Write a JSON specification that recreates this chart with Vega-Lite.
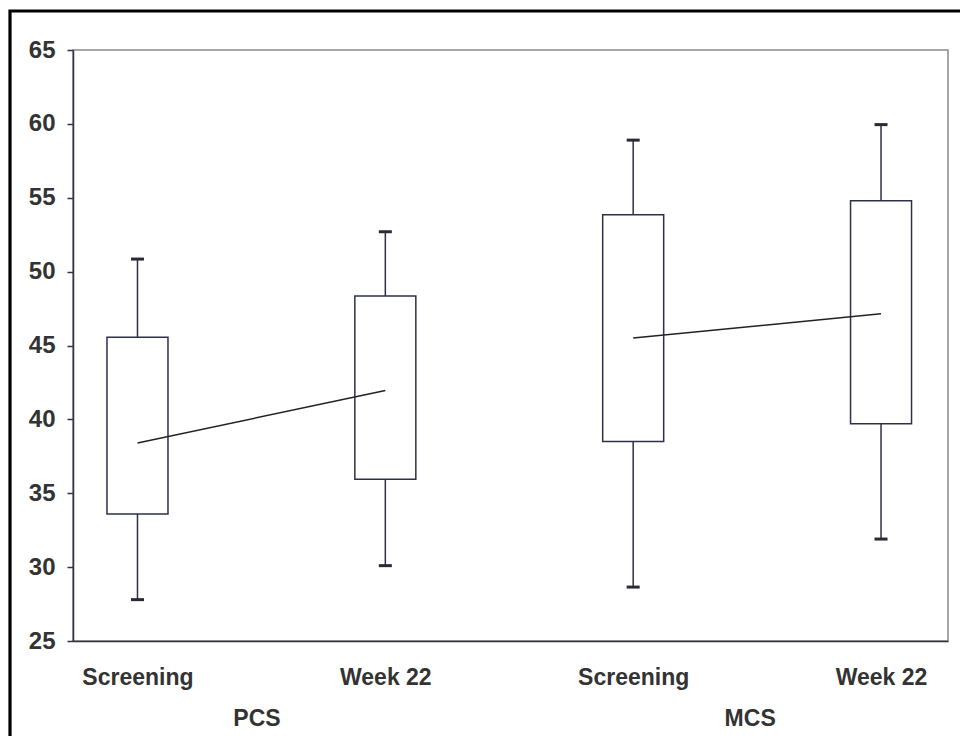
{
  "$schema": "https://vega.github.io/schema/vega-lite/v6.json",
  "autosize": {"type": "none"},
  "padding": {"left": 73, "top": 50, "right": 12, "bottom": 95},
  "width": 875,
  "height": 591,
  "background": "white",
  "config": {
    "view": {"stroke": "#8a8a8a", "strokeWidth": 1.5},
    "font": "Liberation Sans",
    "axis": {
      "labelFont": "Liberation Sans",
      "labelFontWeight": "bold",
      "labelFontSize": 22,
      "labelColor": "#333333",
      "domainColor": "#333340",
      "domainWidth": 1.5,
      "tickColor": "#333340",
      "tickWidth": 1.5,
      "grid": false,
      "title": null
    }
  },
  "data": {
    "values": [
      {"key": "PCS Screening", "group": "PCS", "pos": 1, "min": 27.8, "q1": 33.6, "mean": 38.4, "q3": 45.55, "max": 50.85},
      {"key": "PCS Week 22", "group": "PCS", "pos": 2, "min": 30.1, "q1": 35.95, "mean": 41.95, "q3": 48.35, "max": 52.7},
      {"key": "MCS Screening", "group": "MCS", "pos": 3, "min": 28.65, "q1": 38.5, "mean": 45.5, "q3": 53.85, "max": 58.9},
      {"key": "MCS Week 22", "group": "MCS", "pos": 4, "min": 31.9, "q1": 39.7, "mean": 47.15, "q3": 54.8, "max": 59.95}
    ]
  },
  "encoding": {
    "x": {
      "field": "pos",
      "type": "quantitative",
      "scale": {"domain": [0.76, 4.25], "nice": false, "zero": false},
      "axis": {
        "values": [1, 1.48, 2, 3, 3.47, 4],
        "labelExpr": "datum.value == 1 || datum.value == 3 ? 'Screening' : (datum.value == 2 || datum.value == 4 ? 'Week 22' : (datum.value < 2 ? ['', 'PCS'] : ['', 'MCS']))",
        "labelFontSize": 23,
        "ticks": false,
        "labelPadding": 25,
        "labelLineHeight": 41,
        "labelOverlap": false,
        "labelFlush": false,
        "labelBound": false
      }
    }
  },
  "layer": [
    {
      "data": {"values": [{"frame": "outer"}]},
      "mark": {"type": "rect", "fill": null, "stroke": "black", "strokeWidth": 3.2, "clip": false},
      "encoding": {
        "x": {"value": -63},
        "x2": {"value": 960},
        "y": {"value": -39},
        "y2": {"value": 760}
      }
    },
    {
      "mark": {"type": "rule", "color": "#2e3049", "strokeWidth": 1.5},
      "encoding": {
        "y": {
          "field": "min",
          "type": "quantitative",
          "scale": {"domain": [25, 65], "nice": false, "zero": false},
          "axis": {
            "values": [25, 30, 35, 40, 45, 50, 55, 60, 65],
            "labelFontSize": 24,
            "tickSize": 6,
            "labelPadding": 12
          }
        },
        "y2": {"field": "max"}
      }
    },
    {
      "mark": {"type": "bar", "size": 61, "fill": "white", "stroke": "#2e3049", "strokeWidth": 1.5},
      "encoding": {
        "y": {"field": "q1", "type": "quantitative"},
        "y2": {"field": "q3"}
      }
    },
    {
      "mark": {"type": "tick", "orient": "horizontal", "size": 13, "thickness": 3, "color": "#2a2a35", "opacity": 1},
      "encoding": {"y": {"field": "min", "type": "quantitative"}}
    },
    {
      "mark": {"type": "tick", "orient": "horizontal", "size": 13, "thickness": 3, "color": "#2a2a35", "opacity": 1},
      "encoding": {"y": {"field": "max", "type": "quantitative"}}
    },
    {
      "mark": {"type": "line", "color": "#222222", "strokeWidth": 1.5},
      "encoding": {
        "y": {"field": "mean", "type": "quantitative"},
        "detail": {"field": "group", "type": "nominal"}
      }
    }
  ]
}
